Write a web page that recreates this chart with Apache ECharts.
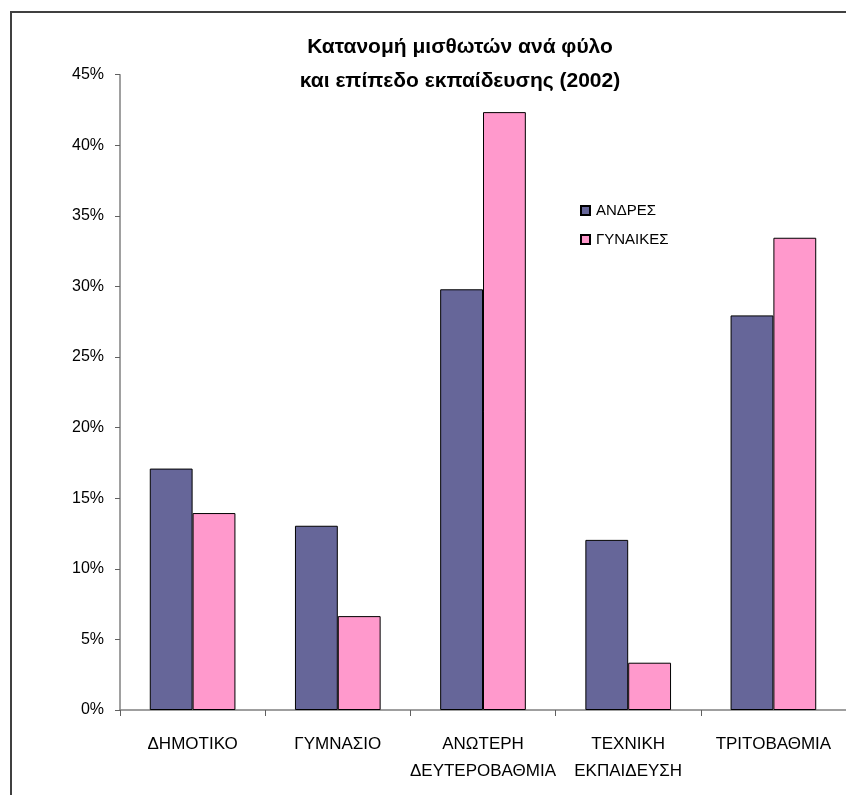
<!DOCTYPE html>
<html>
<head>
<meta charset="utf-8">
<script src="https://cdn.jsdelivr.net/npm/echarts@6/dist/echarts.min.js"></script>
<style>
  html, body { margin: 0; padding: 0; background: #fff; }
  #chart { width: 846px; height: 795px; }
</style>
</head>
<body>
<div id="chart"></div>
<script>
// Education levels (x axis)
const categories = ['ΔΗΜΟΤΙΚΟ', 'ΓΥΜΝΑΣΙΟ', 'ΑΝΩΤΕΡΗ\nΔΕΥΤΕΡΟΒΑΘΜΙΑ', 'ΤΕΧΝΙΚΗ\nΕΚΠΑΙΔΕΥΣΗ', 'ΤΡΙΤΟΒΑΘΜΙΑ'];
// Share of employees per level, percent
const men = [17.1, 13.05, 29.8, 12.05, 27.95];
const women = [13.95, 6.65, 42.35, 3.35, 33.45];
const seriesNames = ['ΑΝΔΡΕΣ', 'ΓΥΝΑΙΚΕΣ'];
const titleLines = ['Κατανομή μισθωτών ανά φύλο', 'και επίπεδο εκπαίδευσης (2002)'];

const FONT = "'Liberation Sans', Arial, sans-serif";

const chart = echarts.init(document.getElementById('chart'), null, { renderer: 'canvas' });
chart.setOption({
  animation: false,
  backgroundColor: '#ffffff',
  textStyle: { fontFamily: FONT },
  title: {
    text: titleLines.join('\n'),
    left: 455,
    textAlign: 'center',
    top: 25,
    textStyle: { fontFamily: FONT, fontSize: 21, fontWeight: 'bold', color: '#000', lineHeight: 34 }
  },
  legend: {
    orient: 'vertical',
    left: 575,
    top: 198,
    itemWidth: 9,
    itemHeight: 9,
    itemGap: 14,
    icon: 'rect',
    data: seriesNames,
    textStyle: { fontFamily: FONT, fontSize: 15, color: '#000', padding: [0, 0, 0, 1] }
  },
  grid: { left: 120, right: -2, top: 74.7, bottom: 85 },
  xAxis: {
    type: 'category',
    data: categories,
    axisLine: { lineStyle: { color: '#808080', width: 1.5 } },
    axisTick: { show: true, length: 6, lineStyle: { color: '#606060' } },
    axisLabel: { interval: 0, fontFamily: FONT, fontSize: 17, color: '#000', margin: 21, lineHeight: 27 }
  },
  yAxis: {
    type: 'value',
    min: 0,
    max: 45,
    interval: 5,
    axisLine: { show: true, lineStyle: { color: '#808080', width: 1.5 } },
    axisTick: { show: true, length: 5, lineStyle: { color: '#606060' } },
    splitLine: { show: false },
    axisLabel: { fontFamily: FONT, fontSize: 16, color: '#000', margin: 16, formatter: '{value}%' }
  },
  series: [
    {
      name: seriesNames[0],
      type: 'bar',
      data: men,
      barGap: '0%',
      barCategoryGap: '41%',
      itemStyle: { color: '#666699', borderColor: '#000', borderWidth: 1 }
    },
    {
      name: seriesNames[1],
      type: 'bar',
      data: women,
      barGap: '0%',
      barCategoryGap: '41%',
      itemStyle: { color: '#FF99CC', borderColor: '#000', borderWidth: 1 }
    }
  ],
  graphic: [
    {
      type: 'rect',
      shape: { x: 11, y: 12, width: 900, height: 900 },
      style: { fill: 'none', stroke: '#404040', lineWidth: 2 },
      silent: true,
      z: 100
    }
  ]
});
</script>
</body>
</html>
